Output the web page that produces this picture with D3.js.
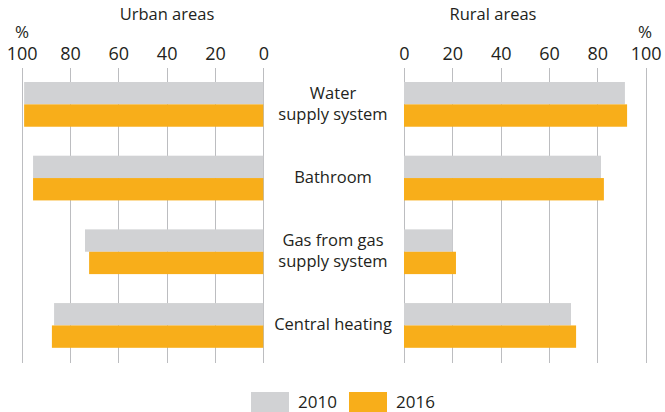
<!DOCTYPE html>
<html><head><meta charset="utf-8">
<script src="https://cdn.jsdelivr.net/npm/d3@7"></script>
<style>
html,body{margin:0;padding:0;background:#fff;}
text{font-family:"Open Sans",sans-serif;fill:#231f20;}
</style></head>
<body><svg id="c" width="665" height="412"></svg>
<script>
const categories = ["Water supply system","Bathroom","Gas from gas supply system","Central heating"];
const categoryLines = [["Water","supply system"],["Bathroom"],["Gas from gas","supply system"],["Central heating"]];
const series = ["2010","2016"];
const urban2010 = [99, 95.3, 73.8, 86.6];
const urban2016 = [99, 95.3, 72.1, 87.5];
const rural2010 = [91.4, 81.5, 20.1, 69.1];
const rural2016 = [92.3, 82.7, 21.5, 71.2];
const tickValues = [0,20,40,60,80,100];
const colors = {"2010":"#d1d2d4","2016":"#f8ae1a"};

const svg = d3.select("#c");
const xL = d3.scaleLinear().domain([0,100]).range([263.3,21.7]);
const xR = d3.scaleLinear().domain([0,100]).range([404,645.7]);
const y = d3.scaleBand().domain(categories).range([82,347.8]).paddingInner(0.393).paddingOuter(0);
const ys = d3.scaleBand().domain(series).range([0,y.bandwidth()]);
const gridTop = 68, gridBottom = 363;

function panel(x, d2010, d2016, title, titleX, pctX){
  const g = svg.append("g");
  g.selectAll("line.grid").data(tickValues).join("line")
    .attr("x1",d=>Math.round(x(d))+0.5).attr("x2",d=>Math.round(x(d))+0.5)
    .attr("y1",gridTop).attr("y2",gridBottom)
    .attr("stroke","#bcbdc0").attr("stroke-width",1);
  const ax = g.append("g").attr("transform","translate(0,60)")
    .call(d3.axisTop(x).tickValues(tickValues).tickSize(0).tickPadding(0));
  ax.select(".domain").remove();
  ax.selectAll("text").attr("font-size",18).attr("font-family","'Open Sans',sans-serif").attr("fill","#231f20").attr("dy",0);
  g.append("text").attr("x",pctX).attr("y",38).attr("text-anchor","middle").attr("font-size",17).text("%");
  g.append("text").attr("x",titleX).attr("y",20).attr("text-anchor","middle").attr("font-size",16.5).text(title);
  const rows = categories.map((c,i)=>({c, v:[d2010[i], d2016[i]]}));
  rows.forEach(r=>{
    series.forEach((s,j)=>{
      const v = r.v[j];
      g.append("rect")
        .attr("x", Math.min(x(0),x(v)))
        .attr("width", Math.abs(x(v)-x(0)))
        .attr("y", y(r.c)+ys(s))
        .attr("height", ys.bandwidth())
        .attr("fill", colors[s]);
    });
  });
}
panel(xL, urban2010, urban2016, "Urban areas", 167, 22);
panel(xR, rural2010, rural2016, "Rural areas", 493, 645);

categories.forEach((c,i)=>{
  const lines = categoryLines[i];
  const cy = y(c)+y.bandwidth()/2;
  const lh = 20.5;
  const t = svg.append("text").attr("text-anchor","middle").attr("font-size",16.5);
  lines.forEach((l,k)=>{
    t.append("tspan").attr("x",333).attr("y", cy + (k-(lines.length-1)/2)*lh + 5).text(l);
  });
});

const lg = svg.append("g");
const legX = [251, 349];
series.forEach((s,i)=>{
  lg.append("rect").attr("x",legX[i]).attr("y",392).attr("width",38).attr("height",20).attr("fill",colors[s]);
  lg.append("text").attr("x",legX[i]+47).attr("y",408).attr("font-size",17).text(s);
});
</script></body></html>
